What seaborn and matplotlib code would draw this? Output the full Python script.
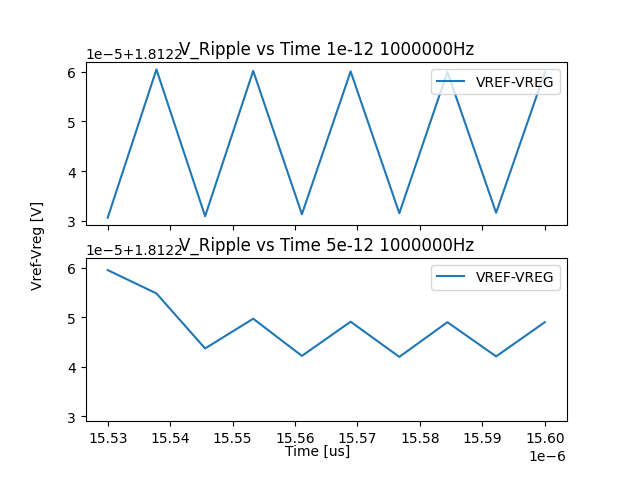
import numpy as np
import matplotlib
matplotlib.use("Agg")
import matplotlib.pyplot as plt
import seaborn as sns

# time points in us
time_us = [15.53, 15.5378, 15.5456, 15.5533, 15.5611, 15.5689, 15.5767, 15.5844, 15.5922, 15.60]
# ripple, in units of 1e-5 V above 1.8122 V
base_v = 1.8122
ripple_1e12 = [3.06, 6.05, 3.09, 6.02, 3.13, 6.01, 3.15, 6.00, 3.16, 5.99]
ripple_5e12 = [5.95, 5.48, 4.37, 4.97, 4.22, 4.91, 4.20, 4.90, 4.21, 4.90]
titles = ["V_Ripple vs Time 1e-12 1000000Hz", "V_Ripple vs Time 5e-12 1000000Hz"]

t = np.array(time_us) * 1e-6

fig, axes = plt.subplots(2, 1, sharex=True, sharey=True, figsize=(6.36, 4.81), dpi=100)
fig.subplots_adjust(left=0.135, right=0.891, top=0.869, bottom=0.123, hspace=0.2)

for ax, r, title in zip(axes, [ripple_1e12, ripple_5e12], titles):
    v = base_v + np.array(r) * 1e-5
    sns.lineplot(x=t, y=v, ax=ax, label="VREF-VREG")
    ax.set_title(title, y=1.0)
    ax.legend(loc="upper right")

# x ticks as 15.53 ... with a 1e-6 multiplier
axes[1].ticklabel_format(axis="x", style="sci", scilimits=(-6, -6))

fig.text(0.5, 0.061, "Time [us]", ha="center", va="center")
fig.text(0.06, 0.49, "Vref-Vreg [V]", ha="center", va="center", rotation="vertical")

fig.savefig("out.png", dpi=100)
